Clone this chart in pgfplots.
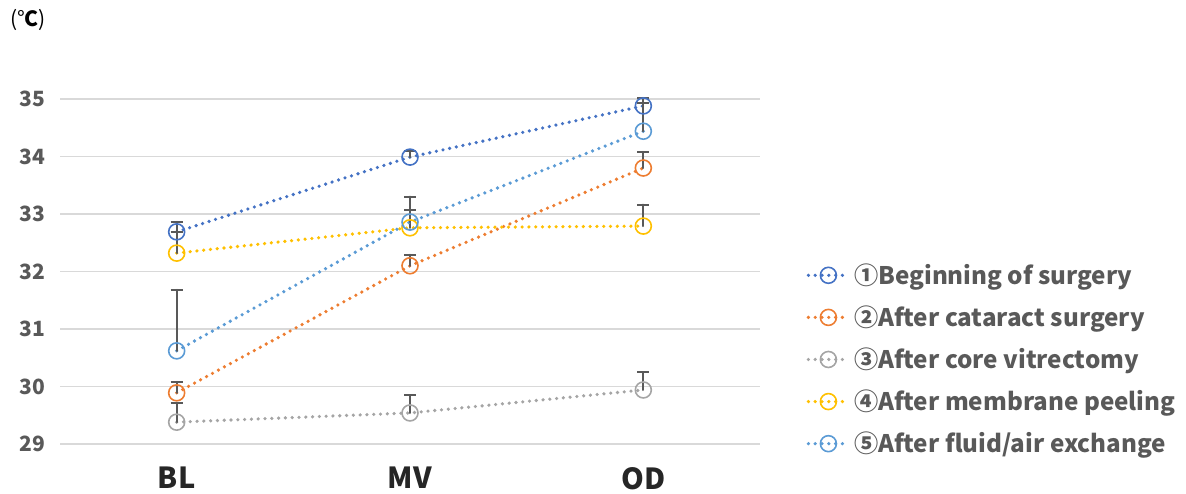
\documentclass[border=0pt]{standalone}
\usepackage{fontspec}
\setmainfont{Noto Sans CJK JP}
\usepackage{pgfplots}
\pgfplotsset{compat=1.18}
\definecolor{s1}{HTML}{4472C4}
\definecolor{s2}{HTML}{ED7D31}
\definecolor{s3}{HTML}{A5A5A5}
\definecolor{s4}{HTML}{FFC000}
\definecolor{s5}{HTML}{5B9BD5}
\definecolor{txt}{HTML}{595959}
\definecolor{grd}{HTML}{D9D9D9}
\begin{document}
\begin{tikzpicture}[x=1pt,y=1pt]
\begin{axis}[
  at={(30pt,24.5pt)}, anchor=south west,
  width=350pt, height=172.5pt, scale only axis=true,
  xmin=-0.5, xmax=2.5, ymin=29, ymax=35,
  xtick={0,1,2}, xticklabels={BL,MV,OD},
  ytick={29,30,31,32,33,34,35},
  axis line style={draw=none},
  major tick length=0pt,
  ymajorgrids=true, grid style={grd, line width=0.8pt},
  /pgf/number format/assume math mode=true,
  yticklabel style={font=\fontsize{10.5}{12}\selectfont\bfseries, text=txt, xshift=-4pt},
  xticklabel style={font=\fontsize{14.5}{16}\selectfont\bfseries, text=black!85, yshift=-8pt},
  clip=false,
  legend style={at={(1.066,0.245)}, anchor=west, draw=none, fill=none,
    font=\fontsize{12.1}{14}\selectfont\bfseries, text=txt,
    row sep=5.2pt, legend cell align=left, inner sep=0pt},
  legend image code/.code={
    \draw[mark repeat=2,mark phase=2,#1] plot coordinates {(0pt,0pt) (10pt,0pt) (20pt,0pt)};
  },
  every axis plot/.append style={
    line width=1.8pt, line cap=round, dash pattern=on 0pt off 3.4pt,
    mark=o, mark size=4pt,
    mark options={solid, line width=0.8pt, fill=none},
    error bars/y dir=plus, error bars/y explicit,
    error bars/error bar style={line width=1.1pt, color=black!65, solid},
    error bars/error mark options={rotate=90, mark size=3pt, line width=1.1pt, color=black!65, solid},
  },
]
\addplot[s1] coordinates {(0,32.69) +- (0,0.17) (1,33.99) +- (0,0.11) (2,34.88) +- (0,0.14)};
\addlegendentry{①Beginning of surgery}
\addplot[s2] coordinates {(0,29.89) +- (0,0.19) (1,32.10) +- (0,0.19) (2,33.80) +- (0,0.28)};
\addlegendentry{②After cataract surgery}
\addplot[s3] coordinates {(0,29.38) +- (0,0.33) (1,29.54) +- (0,0.31) (2,29.94) +- (0,0.31)};
\addlegendentry{③After core vitrectomy}
\addplot[s4] coordinates {(0,32.32) +- (0,0.37) (1,32.76) +- (0,0.31) (2,32.79) +- (0,0.37)};
\addlegendentry{④After membrane peeling}
\addplot[s5] coordinates {(0,30.62) +- (0,1.06) (1,32.86) +- (0,0.44) (2,34.44) +- (0,0.49)};
\addlegendentry{⑤After fluid/air exchange}
\end{axis}
\node[anchor=west,font=\fontsize{10.5}{12}\selectfont] at (1.5pt,236.5pt) {(°\textbf{C})};
\pgfresetboundingbox
\useasboundingbox (0pt,0pt) rectangle (593pt,246.5pt);
\end{tikzpicture}
\end{document}
